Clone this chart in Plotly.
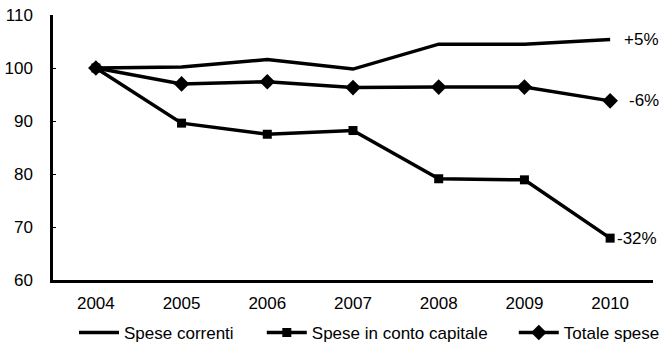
import plotly.graph_objects as go

# Index numbers, 2004 = 100
years = ["2004", "2005", "2006", "2007", "2008", "2009", "2010"]
spese_correnti = [100.0, 100.2, 101.6, 99.8, 104.5, 104.5, 105.4]
spese_capitale = [100.0, 89.6, 87.5, 88.2, 79.1, 78.9, 67.9]
totale_spese = [100.0, 97.0, 97.4, 96.3, 96.4, 96.4, 93.8]

y_ticks = [60, 70, 80, 90, 100, 110]

FONT = "Liberation Sans, Arial, sans-serif"
INK = "#000000"
SIZE = 17

fig = go.Figure()

fig.add_trace(go.Scatter(
    x=years, y=spese_correnti, name="Spese correnti", legend="legend",
    mode="lines", line=dict(color=INK, width=3.5),
))
fig.add_trace(go.Scatter(
    x=years, y=spese_capitale, name="Spese in conto capitale", legend="legend2",
    mode="lines+markers", line=dict(color=INK, width=3.5),
    marker=dict(symbol="square", size=9, color=INK),
))
fig.add_trace(go.Scatter(
    x=years, y=totale_spese, name="Totale spese", legend="legend3",
    mode="lines+markers", line=dict(color=INK, width=3.5),
    marker=dict(symbol="diamond", size=12, color=INK),
))

# Percentage change 2004-2010 next to the last point of each series
last = len(years) - 1
for series, xs in ((spese_correnti, 12), (totale_spese, 17), (spese_capitale, 5)):
    change = round(series[-1] - 100)
    fig.add_annotation(
        x=last, y=series[-1], xref="x", yref="y", text=f"{change:+d}%",
        showarrow=False, xanchor="left", yanchor="middle", xshift=xs,
        font=dict(family=FONT, size=SIZE, color=INK),
    )

legend_common = dict(
    orientation="h", xanchor="left", y=-0.2, yanchor="middle",
    font=dict(family=FONT, size=SIZE, color=INK),
    bgcolor="rgba(0,0,0,0)", itemwidth=40,
)

fig.update_layout(
    width=665, height=351,
    margin=dict(l=53, r=12, t=15, b=71, autoexpand=False),
    paper_bgcolor="white", plot_bgcolor="white",
    font=dict(family=FONT, size=SIZE, color=INK),
    showlegend=True,
    legend=dict(x=0.035, **legend_common),
    legend2=dict(x=0.348, **legend_common),
    legend3=dict(x=0.768, **legend_common),
)
fig.update_xaxes(
    type="category", range=[-0.5, 6.5],
    showline=True, linecolor=INK, linewidth=2.5,
    showgrid=False, ticks="", tickfont=dict(size=SIZE),
    ticklabelstandoff=6,
)
fig.update_yaxes(
    range=[60, 110], tickvals=y_ticks,
    showline=True, linecolor=INK, linewidth=2.5,
    showgrid=False, zeroline=False,
    ticks="inside", ticklen=3, tickcolor=INK,
    ticklabelstandoff=14, tickfont=dict(size=SIZE),
)

fig.write_html("out.html")
